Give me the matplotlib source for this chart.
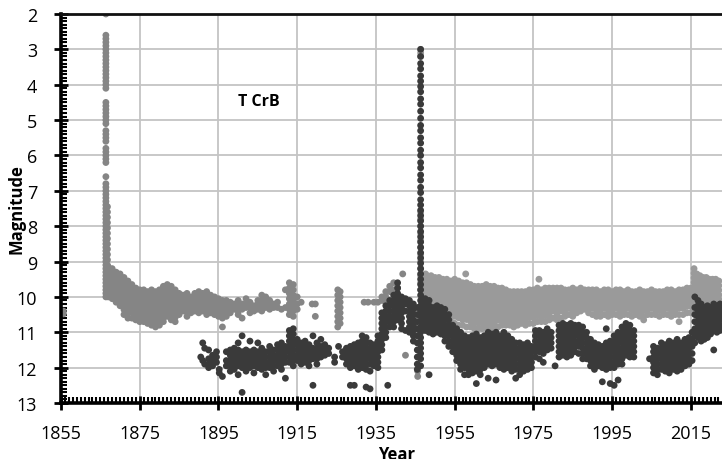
import matplotlib
matplotlib.use("Agg")
import matplotlib.pyplot as plt
from matplotlib.ticker import MultipleLocator

# ---------------- data ----------------
# Visual magnitudes (light grey): one column of observations per epoch
vis_years = [
    1855.6, 1866.4, 1866.8,
    1867, 1868, 1869, 1870, 1871, 1872, 1873, 1874, 1875, 1876, 1877, 1878, 1879,
    1880, 1881, 1882, 1883, 1884, 1885, 1886, 1887, 1888, 1889, 1890, 1891, 1892,
    1893, 1894, 1895, 1896, 1897, 1898, 1899, 1900, 1901, 1902, 1903, 1904, 1905,
    1906, 1907, 1908, 1909, 1910, 1911, 1912, 1913, 1914, 1915, 1916, 1918.8, 1919.6,
    1925.3, 1925.9, 1932, 1933, 1934.5, 1935.5, 1936.5, 1937.5, 1938.5, 1939.5,
    1940.5, 1941.8, 1942.5, 1945.6, 1946.35,
    1947.6, 1948, 1949, 1950, 1951, 1952, 1953, 1954, 1955, 1956, 1957, 1957.8, 1958,
    1959, 1960, 1961, 1962, 1963, 1964, 1965, 1966, 1967, 1968, 1969, 1970, 1971,
    1972, 1973, 1974, 1975, 1976, 1976.4, 1977, 1978, 1979, 1980, 1981, 1982, 1983,
    1984, 1985, 1986, 1987, 1988, 1989, 1990, 1991, 1992, 1993, 1994, 1995, 1996,
    1997, 1998, 1999, 2000, 2001, 2002, 2003, 2004, 2005, 2006, 2007, 2008, 2009,
    2010, 2011, 2012, 2013, 2014, 2015, 2015.8, 2016.5, 2017.3, 2018.1, 2018.9,
    2019.7, 2020.5, 2021.3, 2022.1,
]
vis_mags = [
    [10.4, 10.48],
    [2.0, 2.6, 2.7, 2.8, 2.9, 3.0, 3.1, 3.2, 3.3, 3.4, 3.5, 3.6, 3.7, 3.8, 3.9, 4.0, 4.1,
     4.5, 4.6, 4.7, 4.8, 4.9, 5.0, 5.1, 5.3, 5.4, 5.5, 5.6, 5.8, 5.9, 6.0, 6.1, 6.2,
     6.6, 6.8, 6.9, 7.0, 7.1, 7.2, 7.3, 7.4, 7.5, 7.6, 7.7, 7.8, 7.9, 8.0, 8.1, 8.2,
     8.3, 8.4, 8.5, 8.6, 8.7, 8.8, 8.9, 9.0, 9.1, 9.2, 9.3, 9.4, 9.5, 9.6, 9.7, 9.8, 9.9, 10.0],
    [7.45, 7.6, 7.75, 7.9, 8.05, 8.2, 8.35, 8.5, 8.65, 8.8, 8.95, 9.1, 9.25, 9.4, 9.55, 9.7, 9.85, 9.97],
    [9.15, 9.28, 9.41, 9.54, 9.67, 9.8, 9.93, 10.0],
    [9.2, 9.33, 9.46, 9.59, 9.72, 9.85, 9.98, 10.05],
    [9.3, 9.43, 9.56, 9.69, 9.82, 9.95, 10.08, 10.15],
    [9.35, 9.48, 9.61, 9.74, 9.87, 10.0, 10.13, 10.25],
    [9.45, 9.58, 9.71, 9.84, 9.97, 10.1, 10.23, 10.36, 10.5],
    [9.55, 9.68, 9.81, 9.94, 10.07, 10.2, 10.33, 10.46, 10.6],
    [9.65, 9.78, 9.91, 10.04, 10.17, 10.3, 10.43, 10.6],
    [9.75, 9.88, 10.01, 10.14, 10.27, 10.4, 10.53, 10.65],
    [9.8, 9.93, 10.06, 10.19, 10.32, 10.45, 10.58, 10.7],
    [9.8, 9.93, 10.06, 10.19, 10.32, 10.45, 10.58, 10.7],
    [9.85, 9.98, 10.11, 10.24, 10.37, 10.5, 10.63, 10.75],
    [9.8, 9.93, 10.06, 10.19, 10.32, 10.45, 10.58, 10.7, 10.8],
    [9.85, 9.98, 10.11, 10.24, 10.37, 10.5, 10.63, 10.75, 10.85],
    [9.8, 9.93, 10.06, 10.19, 10.32, 10.45, 10.58, 10.7, 10.8],
    [9.7, 9.83, 9.96, 10.09, 10.22, 10.35, 10.48, 10.6, 10.7],
    [9.65, 9.78, 9.91, 10.04, 10.17, 10.3, 10.43, 10.55],
    [9.7, 9.83, 9.96, 10.09, 10.22, 10.35, 10.48, 10.65],
    [9.8, 9.93, 10.06, 10.19, 10.32, 10.45, 10.58, 10.7],
    [9.9, 10.03, 10.16, 10.29, 10.42, 10.5],
    [9.95, 10.1, 10.25, 10.4],
    [9.9, 10.03, 10.16, 10.29, 10.42, 10.55],
    [10.0, 10.13, 10.26, 10.39, 10.45],
    [9.9, 10.03, 10.16, 10.29, 10.4],
    [9.85, 9.98, 10.11, 10.24, 10.37, 10.45],
    [9.9, 10.03, 10.16, 10.29, 10.4],
    [9.85, 9.98, 10.11, 10.24, 10.37, 10.5],
    [9.95, 10.08, 10.21, 10.34, 10.45],
    [10.0, 10.13, 10.26, 10.39, 10.5],
    [10.05, 10.18, 10.31, 10.44, 10.55],
    [10.1, 10.23, 10.36, 10.49, 10.6, 10.85],
    [10.1, 10.23, 10.36, 10.49, 10.55],
    [10.15, 10.3, 10.45],
    [10.2, 10.35],
    [10.1, 10.25, 10.4, 10.5],
    [10.2, 10.35, 10.6],
    [10.05, 10.2, 10.3],
    [10.15, 10.3, 10.45],
    [10.25, 10.4],
    [10.1, 10.2, 10.35],
    [9.95, 10.1, 10.25, 10.4],
    [10.0, 10.15, 10.3],
    [10.1, 10.25, 10.35],
    [10.2, 10.3],
    [10.15, 10.3],
    [10.35],
    [9.8, 10.3],
    [9.6, 9.75, 9.9, 10.05, 10.2, 10.35, 10.5],
    [9.65, 9.8, 9.95, 10.1, 10.25, 10.4, 10.55],
    [10.0, 10.2, 10.35],
    [10.15],
    [10.2],
    [10.2, 10.55],
    [9.8, 9.95, 10.1, 10.25, 10.4, 10.55, 10.7, 10.85],
    [9.85, 10.0, 10.15, 10.3, 10.45, 10.6, 10.75],
    [10.15], [10.15], [10.15], [10.15],
    [10.0, 10.1],
    [9.85, 10.0, 10.15],
    [9.7, 9.85],
    [9.6, 9.8],
    [9.75],
    [9.35],
    [11.65],
    [12.1, 12.25],
    [3.0, 3.1, 3.2, 7.6, 7.8, 8.0, 8.2, 8.4, 8.6, 8.8, 9.0, 9.2, 9.4, 9.6, 9.8],
    [9.35, 9.48, 9.61, 9.74, 9.87, 10.0, 10.13],
    [9.4, 9.53, 9.66, 9.79, 9.92, 10.05, 10.18, 10.31, 10.4],
    [9.4, 9.53, 9.66, 9.79, 9.92, 10.05, 10.18, 10.31, 10.5],
    [9.45, 9.58, 9.71, 9.84, 9.97, 10.1, 10.23, 10.36, 10.5],
    [9.45, 9.58, 9.71, 9.84, 9.97, 10.1, 10.23, 10.36, 10.55],
    [9.5, 9.63, 9.76, 9.89, 10.02, 10.15, 10.28, 10.41, 10.6],
    [9.5, 9.63, 9.76, 9.89, 10.02, 10.15, 10.28, 10.41, 10.54, 10.65],
    [9.55, 9.68, 9.81, 9.94, 10.07, 10.2, 10.33, 10.46, 10.59, 10.7],
    [9.5, 9.63, 9.76, 9.89, 10.02, 10.15, 10.28, 10.41, 10.54, 10.75],
    [9.55, 9.68, 9.81, 9.94, 10.07, 10.2, 10.33, 10.46, 10.59, 10.8],
    [9.6, 9.73, 9.86, 9.99, 10.12, 10.25, 10.38, 10.51, 10.64, 10.8],
    [9.35],
    [9.6, 9.73, 9.86, 9.99, 10.12, 10.25, 10.38, 10.51, 10.64, 10.85],
    [9.65, 9.78, 9.91, 10.04, 10.17, 10.3, 10.43, 10.56, 10.69, 10.85],
    [9.7, 9.83, 9.96, 10.09, 10.22, 10.35, 10.48, 10.61, 10.74, 10.9],
    [9.7, 9.83, 9.96, 10.09, 10.22, 10.35, 10.48, 10.61, 10.74, 10.9],
    [9.7, 9.83, 9.96, 10.09, 10.22, 10.35, 10.48, 10.61, 10.74, 10.9],
    [9.65, 9.78, 9.91, 10.04, 10.17, 10.3, 10.43, 10.56, 10.69, 10.85],
    [9.7, 9.83, 9.96, 10.09, 10.22, 10.35, 10.48, 10.61, 10.74, 10.9],
    [9.7, 9.83, 9.96, 10.09, 10.22, 10.35, 10.48, 10.61, 10.74, 10.85],
    [9.75, 9.88, 10.01, 10.14, 10.27, 10.4, 10.53, 10.66, 10.85],
    [9.75, 9.88, 10.01, 10.14, 10.27, 10.4, 10.53, 10.66, 10.8],
    [9.8, 9.93, 10.06, 10.19, 10.32, 10.45, 10.58, 10.71, 10.8],
    [9.85, 9.98, 10.11, 10.24, 10.37, 10.5, 10.63, 10.8],
    [9.85, 9.98, 10.11, 10.24, 10.37, 10.5, 10.63, 10.76, 10.85],
    [9.85, 9.98, 10.11, 10.24, 10.37, 10.5, 10.63, 10.8],
    [9.85, 9.98, 10.11, 10.24, 10.37, 10.5, 10.63, 10.75],
    [9.85, 9.98, 10.11, 10.24, 10.37, 10.5, 10.63, 10.8],
    [9.8, 9.93, 10.06, 10.19, 10.32, 10.45, 10.58, 10.75],
    [9.8, 9.93, 10.06, 10.19, 10.32, 10.45, 10.58, 10.75],
    [9.75, 9.88, 10.01, 10.14, 10.27, 10.4, 10.53, 10.7],
    [9.5],
    [9.8, 9.93, 10.06, 10.19, 10.32, 10.45, 10.58, 10.7],
    [9.75, 9.88, 10.01, 10.14, 10.27, 10.4, 10.53, 10.7],
    [9.75, 9.88, 10.01, 10.14, 10.27, 10.4, 10.53, 10.65],
    [9.75, 9.88, 10.01, 10.14, 10.27, 10.4, 10.6],
    [9.75, 9.88, 10.01, 10.14, 10.27, 10.4, 10.53, 10.65],
    [9.75, 9.88, 10.01, 10.14, 10.27, 10.4, 10.6],
    [9.8, 9.93, 10.06, 10.19, 10.32, 10.45, 10.55],
    [9.8, 9.93, 10.06, 10.19, 10.32, 10.5],
    [9.75, 9.88, 10.01, 10.14, 10.27, 10.4, 10.55],
    [9.8, 9.93, 10.06, 10.19, 10.32, 10.45],
    [9.75, 9.88, 10.01, 10.14, 10.27, 10.4],
    [9.8, 9.93, 10.06, 10.19, 10.35],
    [9.8, 9.93, 10.06, 10.19, 10.32, 10.45],
    [9.8, 9.93, 10.06, 10.19, 10.32, 10.5],
    [9.8, 9.93, 10.06, 10.19, 10.32, 10.45, 10.55],
    [9.85, 9.98, 10.11, 10.24, 10.37, 10.55],
    [9.8, 9.93, 10.06, 10.19, 10.32, 10.5],
    [9.8, 9.93, 10.06, 10.19, 10.32, 10.45, 10.55],
    [9.85, 9.98, 10.11, 10.24, 10.37, 10.5],
    [9.8, 9.93, 10.06, 10.19, 10.32, 10.5],
    [9.8, 9.93, 10.06, 10.19, 10.32, 10.45, 10.55],
    [9.85, 9.98, 10.11, 10.24, 10.37, 10.5],
    [9.8, 9.93, 10.06, 10.19, 10.32, 10.5],
    [9.85, 9.98, 10.11, 10.24, 10.37, 10.55],
    [9.85, 9.98, 10.11, 10.24, 10.37, 10.5],
    [9.8, 9.93, 10.06, 10.19, 10.32, 10.45, 10.55],
    [9.85, 9.98, 10.11, 10.24, 10.37, 10.55, 10.65],
    [9.85, 9.98, 10.11, 10.24, 10.37, 10.5],
    [9.8, 9.93, 10.06, 10.19, 10.32, 10.5],
    [9.85, 9.98, 10.11, 10.24, 10.37, 10.5],
    [9.85, 9.98, 10.11, 10.24, 10.37, 10.55],
    [9.85, 9.98, 10.11, 10.24, 10.37, 10.5],
    [9.8, 9.93, 10.06, 10.19, 10.32, 10.5],
    [9.8, 9.93, 10.06, 10.19, 10.32, 10.45, 10.55],
    [9.85, 9.98, 10.11, 10.24, 10.37, 10.5],
    [9.8, 9.93, 10.06, 10.19, 10.32, 10.5, 10.7],
    [9.8, 9.93, 10.06, 10.19, 10.32, 10.5],
    [9.75, 9.88, 10.01, 10.14, 10.27, 10.45],
    [9.75, 9.88, 10.01, 10.14, 10.27, 10.45],
    [9.2, 9.33, 9.46, 9.59, 9.72, 9.85, 9.98, 10.11, 10.3],
    [9.35, 9.48, 9.61, 9.74, 9.87, 10.0, 10.13, 10.25],
    [9.4, 9.53, 9.66, 9.79, 9.92, 10.05, 10.2],
    [9.45, 9.58, 9.71, 9.84, 9.97, 10.1, 10.2],
    [9.45, 9.58, 9.71, 9.84, 9.97, 10.1, 10.25],
    [9.5, 9.63, 9.76, 9.89, 10.02, 10.2],
    [9.5, 9.63, 9.76, 9.89, 10.02, 10.15, 10.25],
    [9.5, 9.63, 9.76, 9.89, 10.02, 10.2],
    [9.55, 9.68, 9.81, 9.94, 10.07, 10.25],
]

# Photographic / B magnitudes (dark grey)
pg_years = [
    1890.5, 1891.0, 1891.5, 1892.5, 1893.5, 1894.5, 1895.2, 1896.0,
    1897, 1898, 1899, 1900, 1901, 1902, 1903, 1904, 1905, 1906, 1907, 1908, 1909,
    1910, 1911, 1912, 1913, 1914, 1915, 1916, 1917, 1918, 1919, 1920, 1921, 1922,
    1923, 1924.5, 1925.5, 1926.5, 1927.5, 1928.5, 1929.5, 1930.5, 1931.5, 1932.5,
    1933.5, 1934.5, 1935.5, 1936.5, 1937.5, 1938.0, 1938.5, 1939.5, 1940.5, 1941.5,
    1942.5, 1943.5, 1944.5, 1945.5, 1946.35,
    1947.5, 1948.5, 1949.5, 1950.5, 1951.5, 1952.5, 1953.5, 1954.5, 1955.5, 1956.5,
    1957.5, 1958.5, 1959.5, 1960.5, 1961.5, 1962.5, 1963.5, 1964.5, 1965.5, 1966.5,
    1967.5, 1968.5, 1969.5, 1970.5, 1971.5, 1972.5, 1973.5, 1974.5, 1975.5, 1976.5,
    1977.5, 1978.5, 1979.5, 1980.5, 1981.5, 1982.5, 1983.5, 1984.5, 1985.5, 1986.5,
    1987.5, 1988.5, 1989.5, 1990.5, 1991.5, 1992.5, 1993.5, 1994.5, 1995.5, 1996.5,
    1997.5, 1998.5, 1999.5, 2000.5, 2004.5, 2005.5, 2006.5, 2007.5, 2008.5, 2009.5,
    2010.5, 2011.5, 2012.5, 2013.5, 2014.5, 2015.3, 2016.0, 2016.8, 2017.6, 2018.4,
    2019.2, 2020.0, 2020.8, 2021.6, 2022.4,
]
pg_mags = [
    [11.7], [11.3, 11.8], [11.45, 11.9], [11.5, 11.75, 11.9, 12.0],
    [11.65, 11.8, 11.95], [11.55, 11.7, 11.85], [12.05, 12.15], [12.25],
    [11.55, 11.8, 11.95],
    [11.5, 11.65, 11.8, 11.95, 12.1],
    [11.45, 11.6, 11.75, 11.9, 12.05],
    [11.3, 11.5, 11.65, 11.8, 11.95, 12.2],
    [11.1, 11.55, 11.7, 11.85, 12.0, 12.7],
    [11.5, 11.65, 11.8, 11.95, 12.1],
    [11.25, 11.55, 11.7, 11.85, 12.0],
    [11.5, 11.65, 11.8, 11.95, 12.15],
    [11.3, 11.55, 11.7, 11.85, 12.0],
    [11.45, 11.6, 11.75, 11.9, 12.05],
    [11.55, 11.7, 11.85, 12.0, 12.2],
    [11.4, 11.55, 11.7, 11.85, 12.0],
    [11.5, 11.65, 11.8, 11.95, 12.1],
    [11.35, 11.5, 11.65, 11.8, 11.95],
    [11.3, 11.45, 11.6, 11.75, 11.9, 12.05],
    [11.4, 11.55, 11.7, 11.85, 12.3],
    [10.95, 11.1, 11.25, 11.4, 11.55, 11.7, 11.85],
    [10.9, 11.05, 11.2, 11.35, 11.5, 11.65, 11.8, 11.95],
    [11.2, 11.35, 11.5, 11.65, 11.8],
    [11.3, 11.45, 11.6, 11.75, 11.9],
    [11.25, 11.4, 11.55, 11.7, 11.85],
    [11.35, 11.5, 11.65, 11.8, 11.95],
    [11.1, 11.45, 11.6, 11.75, 12.5],
    [11.3, 11.45, 11.6, 11.75, 11.9],
    [11.2, 11.4, 11.55, 11.7],
    [11.35, 11.5, 11.65],
    [11.45, 11.6],
    [11.7, 11.85],
    [11.4],
    [11.55, 11.7],
    [11.45, 11.6, 11.75, 11.9],
    [11.4, 11.55, 11.7, 11.85, 12.0, 12.5],
    [11.35, 11.5, 11.65, 11.8, 11.95, 12.5],
    [11.3, 11.45, 11.6, 11.75, 11.9, 12.05],
    [11.1, 11.25, 11.4, 11.55, 11.7, 11.85, 12.0],
    [11.15, 11.3, 11.45, 11.6, 11.75, 11.9, 12.05, 12.55],
    [11.3, 11.45, 11.6, 11.75, 11.9, 12.1, 12.6],
    [11.35, 11.5, 11.65, 11.8, 11.95],
    [11.1, 11.25, 11.4, 11.55, 11.7, 11.85, 12.0],
    [10.45, 10.6, 10.75, 10.9, 11.05, 11.2, 11.35, 11.5],
    [10.25, 10.4, 10.55, 10.7, 10.85, 11.0, 11.15],
    [12.5],
    [10.1, 10.25, 10.4, 10.55, 10.7, 10.85],
    [9.95, 10.1, 10.25, 10.4, 10.55, 10.7, 10.85],
    [9.6, 9.75, 9.9, 10.05, 10.2, 10.35, 10.5, 10.65],
    [10.0, 10.15, 10.3, 10.45, 10.6, 10.75, 10.9],
    [10.05, 10.2, 10.4, 10.95],
    [10.1, 10.25, 10.4, 10.55, 10.7, 10.85, 11.0],
    [10.2, 10.35, 10.5, 10.65, 10.8, 10.95, 11.1, 11.25],
    [10.3, 10.5, 10.7, 10.9, 11.1, 11.3, 11.5, 11.7, 11.9, 12.05],
    [3.0, 3.2, 3.4, 3.55, 3.75, 3.9, 4.05, 4.2, 4.4, 4.55, 4.75, 4.95, 5.15, 5.3, 5.5,
     5.65, 5.85, 6.0, 6.2, 6.35, 6.55, 6.7, 6.9, 7.05, 7.25, 7.4, 7.55, 7.7, 7.85, 8.0,
     8.15, 8.3, 8.45, 8.6, 8.75, 8.9, 9.05, 9.2, 9.35, 9.5, 9.65, 9.8, 9.95, 10.1, 10.25,
     10.4, 10.55, 10.7, 10.85, 11.0, 11.15, 11.3, 11.45, 11.6, 11.75, 11.95],
    [10.05, 10.2, 10.35, 10.5, 10.65, 10.8, 10.95],
    [10.1, 10.25, 10.4, 10.55, 10.7, 10.85, 11.0, 12.2],
    [10.3, 10.45, 10.6, 10.75, 10.9, 11.05],
    [10.25, 10.4, 10.55, 10.7, 10.85, 11.0],
    [10.3, 10.45, 10.6, 10.75, 10.9, 11.05],
    [10.35, 10.5, 10.65, 10.8, 10.95, 11.1, 11.25],
    [10.5, 10.65, 10.8, 10.95, 11.1, 11.25, 11.4],
    [10.8, 10.95, 11.1, 11.25, 11.4, 11.55],
    [10.9, 11.05, 11.2, 11.35, 11.5, 11.65, 11.8],
    [11.0, 11.15, 11.3, 11.45, 11.6, 11.75, 11.9, 12.05],
    [11.1, 11.25, 11.4, 11.55, 11.7, 11.85, 12.0, 12.2],
    [11.15, 11.3, 11.45, 11.6, 11.75, 11.9, 12.05, 12.2],
    [11.1, 11.25, 11.4, 11.55, 11.7, 11.85, 12.0, 12.15],
    [11.05, 11.2, 11.35, 11.5, 11.65, 11.8, 11.95, 12.1, 12.45],
    [11.15, 11.3, 11.45, 11.6, 11.75, 11.9, 12.05, 12.2],
    [11.1, 11.25, 11.4, 11.55, 11.7, 11.85, 12.0],
    [11.0, 11.15, 11.3, 11.45, 11.6, 11.75, 11.9, 12.3],
    [11.05, 11.2, 11.35, 11.5, 11.65, 11.8, 11.95],
    [11.0, 11.15, 11.3, 11.45, 11.6, 11.75, 11.9, 12.35],
    [11.1, 11.25, 11.4, 11.55, 11.7, 11.85, 12.0],
    [11.0, 11.15, 11.3, 11.45, 11.6, 11.75, 11.9, 12.05],
    [11.1, 11.25, 11.4, 11.55, 11.7, 11.85, 12.0],
    [11.2, 11.35, 11.5, 11.65, 11.8, 11.95, 12.1],
    [11.3, 11.45, 11.6, 11.75, 11.9, 12.05, 12.3],
    [11.3, 11.45, 11.6, 11.75, 11.9, 12.05, 12.2],
    [11.35, 11.5, 11.65, 11.8, 11.95, 12.1],
    [11.3, 11.45, 11.6, 11.75, 11.9, 12.05],
    [11.4, 11.55, 11.7, 11.85, 12.0],
    [10.95, 11.1, 11.25, 11.4, 11.55, 11.7],
    [10.95, 11.1, 11.25, 11.4, 11.55, 11.75],
    [11.0, 11.15, 11.3, 11.45, 11.6, 11.85],
    [10.9, 11.05, 11.2, 11.35, 11.5],
    [11.0, 11.15, 11.3, 11.45],
    [11.95],
    [10.8, 10.95, 11.1, 11.25, 11.4, 11.55, 11.7],
    [10.75, 10.9, 11.05, 11.2, 11.35, 11.5, 11.65],
    [10.8, 10.95, 11.1, 11.25, 11.4, 11.55, 11.7],
    [10.75, 10.9, 11.05, 11.2, 11.35, 11.5, 11.65],
    [10.8, 10.95, 11.1, 11.25, 11.4, 11.55],
    [10.8, 10.95, 11.1, 11.25, 11.4, 11.6],
    [10.85, 11.0, 11.15, 11.3, 11.45, 11.6, 11.75],
    [11.0, 11.15, 11.3, 11.45, 11.6, 11.75],
    [11.2, 11.35, 11.5, 11.65, 11.8, 11.95],
    [11.3, 11.45, 11.6, 11.75, 11.9, 12.05],
    [11.35, 11.5, 11.65, 11.8, 11.95],
    [11.4, 11.55, 11.7, 11.85, 12.0, 12.4],
    [10.9, 11.3, 11.45, 11.6, 11.75, 11.9, 12.05],
    [11.25, 11.4, 11.55, 11.7, 11.85, 12.0, 12.45],
    [11.1, 11.25, 11.4, 11.55, 11.7, 11.85, 12.0, 12.5],
    [11.0, 11.15, 11.3, 11.45, 11.6, 11.75, 11.9, 12.35],
    [10.85, 11.0, 11.15, 11.3, 11.45, 11.6, 11.75, 11.9],
    [10.75, 10.9, 11.05, 11.2, 11.35, 11.5, 11.65],
    [10.8, 10.95, 11.1, 11.25, 11.4, 11.55, 11.7],
    [10.95, 11.1, 11.25, 11.4, 11.55, 11.7],
    [11.75],
    [11.4, 11.55, 11.7, 11.85, 12.0, 12.15],
    [11.45, 11.6, 11.75, 11.9, 12.05, 12.2],
    [11.3, 11.45, 11.6, 11.75, 11.9, 12.05],
    [11.35, 11.5, 11.65, 11.8, 11.95, 12.1],
    [11.25, 11.4, 11.55, 11.7, 11.85, 12.0, 12.15],
    [11.3, 11.45, 11.6, 11.75, 11.9, 12.05],
    [11.2, 11.35, 11.5, 11.65, 11.8, 11.95, 12.1],
    [11.3, 11.45, 11.6, 11.75, 11.9, 12.05],
    [11.2, 11.35, 11.5, 11.65, 11.8, 11.95],
    [11.15, 11.3, 11.45, 11.6, 11.75, 11.9],
    [11.0, 11.2, 11.4, 11.6, 11.8],
    [10.0, 10.3, 10.5, 10.7, 10.9, 11.1, 11.3],
    [10.1, 10.25, 10.4, 10.55, 10.7, 10.85, 11.0, 11.15],
    [10.2, 10.35, 10.5, 10.65, 10.8, 10.95, 11.1, 11.25],
    [10.3, 10.45, 10.6, 10.75, 10.9, 11.05, 11.2],
    [10.25, 10.4, 10.55, 10.7, 10.85, 11.0, 11.15],
    [10.3, 10.45, 10.6, 10.75, 10.9, 11.05],
    [10.2, 10.35, 10.5, 10.65, 10.8, 10.95, 11.5],
    [10.25, 10.4, 10.55, 10.7, 10.85, 11.0],
    [10.2, 10.35, 10.5, 10.65, 10.8, 10.95],
]

x_ticks = [1855, 1875, 1895, 1915, 1935, 1955, 1975, 1995, 2015]
y_ticks = [2, 3, 4, 5, 6, 7, 8, 9, 10, 11, 12, 13]
label_text = "T CrB"

# ---------------- build flat point lists ----------------
vx, vy = [], []
for yr, ms in zip(vis_years, vis_mags):
    vx += [yr] * len(ms)
    vy += ms
px, py = [], []
for yr, ms in zip(pg_years, pg_mags):
    px += [yr] * len(ms)
    py += ms

# early visual points a touch darker than the later ones (marker shading)
vis_colors = ['#858585' if yr < 1946 else '#9a9a9a' for yr in vx]

# ---------------- figure ----------------
plt.rcParams['font.family'] = ['Open Sans', 'DejaVu Sans']
fig = plt.figure(figsize=(7.22, 4.60), dpi=100)
ax = fig.add_axes([61 / 722, 1 - 404 / 460, 1 - 61 / 722, (404 - 15) / 460])

ax.scatter(vx, vy, s=24, c=vis_colors, edgecolors='none', zorder=2)
ax.scatter(px, py, s=24, color='#3a3a3a', edgecolors='none', zorder=3)

ax.set_xlim(1855, 2022.9)
ax.set_ylim(13, 2)
ax.set_xticks(x_ticks)
ax.set_yticks(y_ticks)
ax.xaxis.set_minor_locator(MultipleLocator(1))
ax.yaxis.set_minor_locator(MultipleLocator(0.1))

ax.grid(True, which='major', color='#c4c4c4', linewidth=1.3, zorder=0)
ax.set_axisbelow(True)

for side in ['left', 'bottom']:
    ax.spines[side].set_linewidth(2.6)
    ax.spines[side].set_color('black')
ax.spines['top'].set_linewidth(2.0)
ax.spines['top'].set_color('#111111')
ax.spines['right'].set_visible(False)

ax.tick_params(which='major', direction='inout', length=10, width=2, labelsize=13,
               colors='black')
ax.tick_params(axis='x', which='major', pad=10)
ax.tick_params(axis='y', which='major', pad=12)
ax.tick_params(which='minor', direction='in', length=4.5, width=1.5, colors='black')
ax.tick_params(top=False, right=False, which='both')

ax.set_ylabel('Magnitude', fontsize=12, fontweight='bold')
ax.yaxis.set_label_coords(-0.054, 0.5)
ax.set_xlabel('Year', fontsize=12, fontweight='bold')
ax.xaxis.set_label_coords(0.508, -0.108)
ax.xaxis.label.set_va('top')
ax.text(1900, 4.45, label_text, fontsize=11.5, fontweight='bold', ha='left', va='center')

fig.savefig('out.png', dpi=100)
